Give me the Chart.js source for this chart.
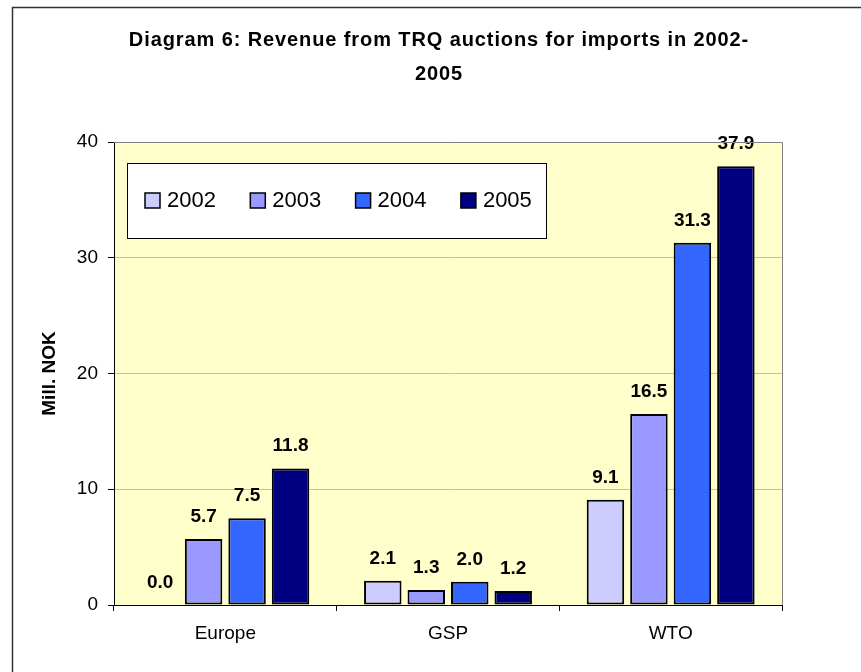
<!DOCTYPE html>
<html>
<head>
<meta charset="utf-8">
<script src="https://cdn.jsdelivr.net/npm/chart.js@4.4.0/dist/chart.umd.min.js"></script>
<style>
    body { margin: 0; background: #fff; }
    canvas { display: block; }
</style>
</head>
<body>
<canvas id="revenueChart" width="861" height="672"></canvas>
<script>
// Chart data
const categories = ['Europe', 'GSP', 'WTO'];
const years = ['2002', '2003', '2004', '2005'];
const rev2002 = [0.0, 2.1, 9.1];
const rev2003 = [5.7, 1.3, 16.5];
const rev2004 = [7.5, 2.0, 31.3];
const rev2005 = [11.8, 1.2, 37.9];
const yTicks = [0, 10, 20, 30, 40];
const titleLines = ['Diagram 6: Revenue from TRQ auctions for imports in 2002-', '2005'];
const yTitle = 'Mill. NOK';

const barColors = ['#CCCCFF', '#9999FF', '#3366FF', '#000080'];
const FONT = '"Liberation Sans", Arial, sans-serif';

// Excel-like extras: plot background, legend box, value labels, title, frame
const excelLook = {
    id: 'excelLook',
    beforeDraw(chart) {
        const { ctx, chartArea: a } = chart;
        ctx.save();
        ctx.fillStyle = '#fff';
        ctx.fillRect(0, 0, chart.width, chart.height);
        ctx.fillStyle = '#FFFFCC';
        ctx.fillRect(a.left, a.top, a.right - a.left, a.bottom - a.top);
        ctx.restore();
    },
    afterDatasetsDraw(chart) {
        const ctx = chart.ctx;
        ctx.save();
        ctx.font = 'bold 19px ' + FONT;
        ctx.fillStyle = '#000';
        ctx.textAlign = 'center';
        ctx.textBaseline = 'alphabetic';
        chart.data.datasets.forEach((ds, i) => {
            chart.getDatasetMeta(i).data.forEach((bar, j) => {
                ctx.fillText(ds.data[j].toFixed(1), bar.x, bar.y - 17);
            });
        });
        ctx.restore();
    },
    afterDraw(chart) {
        const { ctx, chartArea: a } = chart;
        ctx.save();

        // top and right edge of the plot area
        ctx.strokeStyle = '#808080';
        ctx.lineWidth = 1;
        ctx.beginPath();
        ctx.moveTo(a.left, a.top + 0.5);
        ctx.lineTo(a.right + 0.5, a.top + 0.5);
        ctx.lineTo(a.right + 0.5, a.bottom);
        ctx.stroke();

        // legend box
        ctx.fillStyle = '#fff';
        ctx.fillRect(127, 163, 419, 75);
        ctx.strokeStyle = '#000';
        ctx.strokeRect(127.5, 163.5, 419, 75);
        ctx.font = '22px ' + FONT;
        ctx.textAlign = 'left';
        ctx.textBaseline = 'alphabetic';
        chart.data.datasets.forEach((ds, i) => {
            const x = 145 + i * 105.3;
            ctx.fillStyle = ds.backgroundColor;
            ctx.fillRect(x, 193, 15, 15);
            ctx.lineWidth = 1.5;
            ctx.strokeStyle = '#000';
            ctx.strokeRect(x, 193, 15, 15);
            ctx.fillStyle = '#000';
            ctx.fillText(ds.label, x + 22, 207);
        });

        // title
        ctx.font = 'bold 20px ' + FONT;
        ctx.textAlign = 'center';
        ctx.letterSpacing = '0.9px';
        titleLines.forEach((line, i) => {
            ctx.fillText(line, 439, 46 + i * 34);
        });
        ctx.letterSpacing = '0px';

        // outer frame
        ctx.strokeStyle = '#333';
        ctx.lineWidth = 1.5;
        ctx.strokeRect(12.5, 7.5, 900, 700);
        ctx.restore();
    }
};

const revenueCtx = document.getElementById('revenueChart').getContext('2d');
new Chart(revenueCtx, {
    type: 'bar',
    data: {
        labels: categories,
        datasets: [rev2002, rev2003, rev2004, rev2005].map((values, i) => ({
            label: years[i],
            data: values,
            backgroundColor: barColors[i],
            borderColor: '#000',
            borderWidth: 2,
            borderSkipped: false,
            barPercentage: 0.862,
            categoryPercentage: 0.781
        }))
    },
    options: {
        responsive: false,
        animation: false,
        layout: { padding: { top: 142, right: 79, bottom: 0, left: 0 } },
        plugins: {
            legend: { display: false },
            title: { display: false },
            tooltip: { enabled: false }
        },
        scales: {
            x: {
                afterFit(scale) { scale.height = 67; },
                grid: { drawOnChartArea: false, tickLength: 6, tickColor: '#000', offset: true },
                border: { color: '#000', width: 1 },
                ticks: { color: '#000', font: { family: FONT, size: 19 }, padding: 11 }
            },
            y: {
                min: 0,
                max: 40,
                afterFit(scale) { scale.width = 114; },
                afterBuildTicks(scale) { scale.ticks = yTicks.map(v => ({ value: v })); },
                grid: { color: '#C0C0C0', tickLength: 6, tickColor: '#000' },
                border: { color: '#000', width: 1 },
                ticks: { color: '#000', font: { family: FONT, size: 19 }, padding: 10 },
                title: {
                    display: true,
                    text: yTitle,
                    color: '#000',
                    font: { family: FONT, size: 19, weight: 'bold' },
                    padding: { top: 38, bottom: 0 }
                }
            }
        }
    },
    plugins: [excelLook]
});
</script>
</body>
</html>
